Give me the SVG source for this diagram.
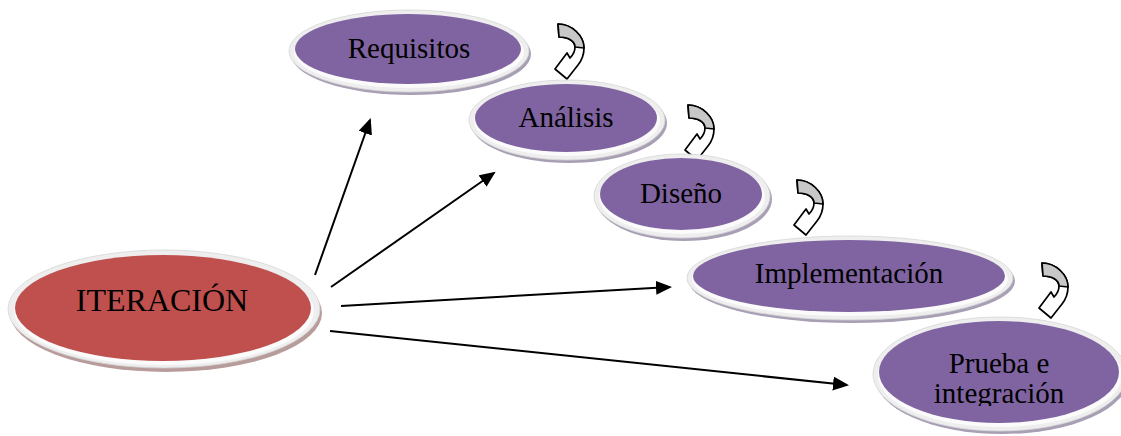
<svg xmlns="http://www.w3.org/2000/svg" width="1121" height="436" viewBox="0 0 1121 436">
  <style>
    .rim { fill: #eeeeee; stroke: #d6d6d6; stroke-width: 0.8; }
    .shadow-p { fill: #a89fb5; }
    .shadow-r { fill: #b89c9b; }
    .bevel { fill: #fbfbfb; }
    .purple { fill: #8064a2; }
    .red { fill: #c0504d; }
    .label { font-family: "Liberation Serif", "Times New Roman", serif; font-size: 29px; fill: #000000; text-anchor: middle; }
    .big { font-size: 32px; }
    .conn { stroke: #000000; stroke-width: 2; fill: none; marker-end: url(#head); }
    .turn-back { fill: #ffffff; stroke: #000000; stroke-width: 1.7; stroke-linejoin: round; }
    .turn-front { fill: #c8c8c8; stroke: #000000; stroke-width: 1.7; stroke-linejoin: round; }
  </style>
  <defs>
    <marker id="head" markerUnits="userSpaceOnUse" markerWidth="18" markerHeight="15" refX="14" refY="7" orient="auto">
      <path d="M0,0 L16,7 L0,14 Z" fill="#000000"/>
    </marker>
    <!-- curved hand-off arrow between consecutive phases -->
    <g id="uturn">
      <path class="turn-back" d="M13,5 C27,5 39,17 39,29 C39,36 37,41 33,46 L22,60 L10,50 L22,34 L25,39 C29,35 30,31 30,28 C30,22 23,18 14,18 Z"/>
      <path class="turn-front" d="M13,5 C27,5 39,17 39,29 L30,28 C30,22 23,18 14,18 Z"/>
    </g>
    <clipPath id="clipPrueba">
      <rect x="870" y="300" width="251" height="106"/>
    </clipPath>
  </defs>

  <!-- connectors from ITERACIÓN to each phase -->
  <g id="connectors">
    <line class="conn" x1="315" y1="275" x2="370" y2="120"/>
    <line class="conn" x1="331" y1="287" x2="494" y2="173"/>
    <line class="conn" x1="341" y1="306" x2="670" y2="287"/>
    <line class="conn" x1="330" y1="331" x2="847" y2="385"/>
  </g>

  <!-- sequence arrows -->
  <g id="sequence">
    <use href="#uturn" transform="translate(545,19)"/>
    <use href="#uturn" transform="translate(675,100)"/>
    <use href="#uturn" transform="translate(784,175)"/>
    <use href="#uturn" transform="translate(1029,258)"/>
  </g>

  <g id="node-iteracion">
    <ellipse class="shadow-r" cx="166" cy="313" rx="156" ry="59"/>
    <ellipse class="rim" cx="164" cy="309" rx="156" ry="59"/>
    <ellipse class="bevel" cx="164" cy="311" rx="150" ry="54"/>
    <ellipse class="red" cx="163" cy="308" rx="148" ry="53"/>
    <text class="label big" x="162" y="311">ITERACIÓN</text>
  </g>

  <g id="node-requisitos">
    <ellipse class="shadow-p" cx="411" cy="54" rx="120" ry="41"/>
    <ellipse class="rim" cx="409" cy="51" rx="120" ry="41"/>
    <ellipse class="bevel" cx="409" cy="52" rx="115" ry="36"/>
    <ellipse class="purple" cx="408" cy="49" rx="113" ry="35"/>
    <text class="label" x="409" y="58">Requisitos</text>
  </g>

  <g id="node-analisis">
    <ellipse class="shadow-p" cx="569" cy="123" rx="98" ry="40"/>
    <ellipse class="rim" cx="567" cy="120" rx="98" ry="40"/>
    <ellipse class="bevel" cx="567" cy="121" rx="93" ry="35"/>
    <ellipse class="purple" cx="566" cy="118" rx="91" ry="34"/>
    <text class="label" x="566" y="127">Análisis</text>
  </g>

  <g id="node-diseno">
    <ellipse class="shadow-p" cx="684" cy="199" rx="88" ry="42"/>
    <ellipse class="rim" cx="682" cy="196" rx="88" ry="42"/>
    <ellipse class="bevel" cx="682" cy="197" rx="83" ry="37"/>
    <ellipse class="purple" cx="681" cy="194" rx="81" ry="36"/>
    <text class="label" x="681" y="203">Diseño</text>
  </g>

  <g id="node-implementacion">
    <ellipse class="shadow-p" cx="852" cy="281" rx="163" ry="42"/>
    <ellipse class="rim" cx="850" cy="278" rx="163" ry="42"/>
    <ellipse class="bevel" cx="850" cy="279" rx="158" ry="37"/>
    <ellipse class="purple" cx="849" cy="276" rx="156" ry="36"/>
    <text class="label" x="849" y="283">Implementación</text>
  </g>

  <g id="node-prueba">
    <ellipse class="shadow-p" cx="1002" cy="377" rx="127" ry="57"/>
    <ellipse class="rim" cx="1000" cy="374" rx="127" ry="57"/>
    <ellipse class="bevel" cx="1000" cy="375" rx="122" ry="52"/>
    <ellipse class="purple" cx="999" cy="372" rx="120" ry="51"/>
    <g clip-path="url(#clipPrueba)">
      <text class="label" x="999" y="373">Prueba e</text>
      <text class="label" x="999" y="403">integración</text>
    </g>
  </g>
</svg>
